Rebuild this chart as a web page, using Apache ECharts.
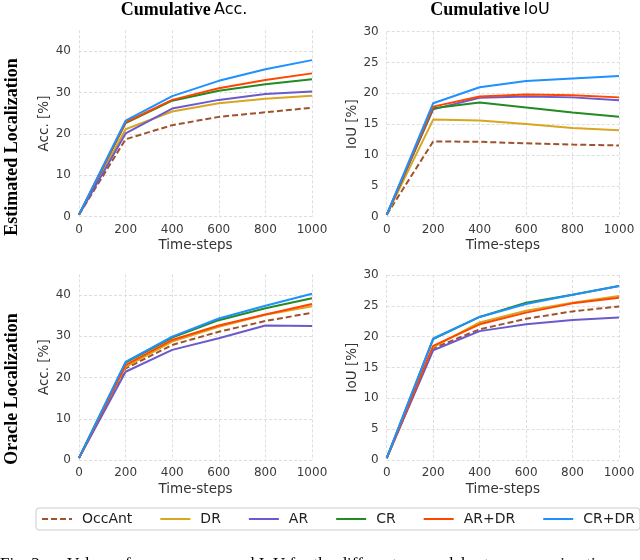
<!DOCTYPE html>
<html>
<head>
<meta charset="utf-8">
<script src="https://cdn.jsdelivr.net/npm/echarts@6/dist/echarts.min.js"></script>
<style>
  html, body { margin: 0; padding: 0; background: #fff; }
  #chart { width: 640px; height: 560px; }
</style>
</head>
<body>
<div id="chart"></div>
<script>
// x 轴: 时间步
const steps = [0, 200, 400, 600, 800, 1000]
const methods = ['OccAnt', 'DR', 'AR', 'CR', 'AR+DR', 'CR+DR']

// Estimated Localization - Acc. [%]
const occAntEstAcc = [0.5, 18.7, 22.1, 24.1, 25.2, 26.3]
const drEstAcc = [0.5, 21.1, 25.4, 27.4, 28.5, 29.2]
const arEstAcc = [0.5, 20.1, 26.1, 28.2, 29.6, 30.2]
const crEstAcc = [0.5, 22.6, 28.0, 30.4, 32.0, 33.2]
const arDrEstAcc = [0.5, 22.8, 28.2, 31.0, 33.0, 34.6]
const crDrEstAcc = [0.5, 23.2, 29.1, 32.8, 35.6, 37.8]

// Estimated Localization - IoU [%]
const occAntEstIou = [0.3, 12.2, 12.15, 11.9, 11.7, 11.55]
const drEstIou = [0.3, 15.75, 15.6, 15.05, 14.4, 14.0]
const arEstIou = [0.3, 17.4, 19.3, 19.5, 19.35, 18.9]
const crEstIou = [0.3, 17.6, 18.5, 17.7, 16.9, 16.2]
const arDrEstIou = [0.3, 17.85, 19.5, 19.8, 19.7, 19.35]
const crDrEstIou = [0.3, 18.4, 21.0, 22.0, 22.4, 22.8]

// Oracle Localization - Acc. [%]
const occAntOrcAcc = [0.5, 22.2, 27.9, 31.1, 33.7, 35.7]
const drOrcAcc = [0.5, 22.6, 28.7, 32.3, 35.2, 37.3]
const arOrcAcc = [0.5, 21.4, 26.7, 29.5, 32.6, 32.5]
const crOrcAcc = [0.5, 23.6, 29.7, 33.9, 36.8, 39.2]
const arDrOrcAcc = [0.5, 23.0, 29.1, 32.6, 35.3, 37.8]
const crDrOrcAcc = [0.5, 23.8, 29.9, 34.3, 37.4, 40.3]

// Oracle Localization - IoU [%]
const occAntOrcIou = [0.3, 18.1, 21.2, 22.9, 24.1, 24.9]
const drOrcIou = [0.3, 18.3, 22.3, 24.2, 25.5, 26.6]
const arOrcIou = [0.3, 17.8, 20.9, 22.0, 22.7, 23.1]
const crOrcIou = [0.3, 19.6, 23.2, 25.5, 26.8, 28.2]
const arDrOrcIou = [0.3, 18.5, 22.0, 23.9, 25.4, 26.3]
const crDrOrcIou = [0.3, 19.7, 23.2, 25.3, 26.8, 28.2]

const panels = [
  [occAntEstAcc, drEstAcc, arEstAcc, crEstAcc, arDrEstAcc, crDrEstAcc],
  [occAntEstIou, drEstIou, arEstIou, crEstIou, arDrEstIou, crDrEstIou],
  [occAntOrcAcc, drOrcAcc, arOrcAcc, crOrcAcc, arDrOrcAcc, crDrOrcAcc],
  [occAntOrcIou, drOrcIou, arOrcIou, crOrcIou, arDrOrcIou, crDrOrcIou]
]

// 图注（底部被裁掉一半），按词组分段
const captionParts = ['Fig. 3.', 'Values of accuracy', 'and IoU for the different', 'models at', 'varying time']
const captionX = [0, 67, 230, 423, 530]

const colors = ['#a0522d', '#daa520', '#6a5acd', '#228b22', '#ff4500', '#1e90ff']
const sans = 'DejaVu Sans'
const serif = 'Liberation Serif'
const gridColor = '#dedede'

const grids = [
  { left: 79, top: 30.3, width: 233, height: 186.4 },
  { left: 386.7, top: 31.7, width: 232.3, height: 185 },
  { left: 79, top: 274.4, width: 233, height: 185.6 },
  { left: 386.7, top: 275, width: 232.3, height: 185 }
]

const xAxes = grids.map((g, i) => ({
  type: 'value',
  gridIndex: i,
  min: 0,
  max: 1000,
  interval: 200,
  name: 'Time-steps',
  nameLocation: 'middle',
  nameGap: 22,
  nameTextStyle: { fontFamily: sans, fontSize: 13.5, color: '#333' },
  axisLine: { show: false },
  axisTick: { show: false },
  axisLabel: { fontFamily: sans, fontSize: 12, color: '#3b3b3b', margin: 7, formatter: v => String(v) },
  splitLine: { show: true, lineStyle: { color: gridColor, type: [3, 2], width: 1 } }
}))

const yAxes = grids.map((g, i) => {
  const isAcc = i % 2 === 0
  // Acc 图上方留白，最后一条网格线设为透明
  const lineColors = isAcc
    ? [gridColor, gridColor, gridColor, gridColor, gridColor, 'rgba(0,0,0,0)']
    : gridColor
  return {
    type: 'value',
    gridIndex: i,
    min: 0,
    max: isAcc ? 45 : 30,
    interval: isAcc ? 10 : 5,
    name: isAcc ? 'Acc. [%]' : 'IoU [%]',
    nameLocation: 'middle',
    nameGap: isAcc ? 24 : 26,
    nameTextStyle: { fontFamily: sans, fontSize: 13.5, color: '#333' },
    axisLine: { show: false },
    axisTick: { show: false },
    axisLabel: { fontFamily: sans, fontSize: 12, color: '#3b3b3b', margin: 8, showMaxLabel: !isAcc },
    splitLine: { show: true, lineStyle: { color: lineColors, type: [3, 2], width: 1 } }
  }
})

const series = []
panels.forEach((panel, p) => {
  panel.forEach((values, m) => {
    series.push({
      name: methods[m],
      type: 'line',
      xAxisIndex: p,
      yAxisIndex: p,
      data: steps.map((s, k) => [s, values[k]]),
      symbol: 'none',
      animation: false,
      lineStyle: { color: colors[m], width: 2, type: m === 0 ? [6, 3] : 'solid' },
      itemStyle: { color: colors[m] }
    })
  })
})

const titleRich = {
  a: { fontFamily: serif, fontWeight: 'bold', fontSize: 18, color: '#000' },
  b: { fontFamily: sans, fontSize: 16, color: '#000' }
}

const graphics = [
  {
    type: 'text', x: 184, y: 10,
    style: { text: '{a|Cumulative} {b|Acc.}', rich: titleRich, align: 'center', verticalAlign: 'middle' }
  },
  {
    type: 'text', x: 490, y: 10,
    style: { text: '{a|Cumulative} {b|IoU}', rich: titleRich, align: 'center', verticalAlign: 'middle' }
  },
  {
    type: 'text', x: 12, y: 147, rotation: Math.PI / 2,
    style: { text: 'Estimated Localization', font: 'bold 18px "Liberation Serif"', fill: '#000', align: 'center', verticalAlign: 'middle' }
  },
  {
    type: 'text', x: 12, y: 389, rotation: Math.PI / 2,
    style: { text: 'Oracle Localization', font: 'bold 18px "Liberation Serif"', fill: '#000', align: 'center', verticalAlign: 'middle' }
  }
]
captionParts.forEach((t, i) => {
  graphics.push({
    type: 'text', x: captionX[i], y: 565,
    style: { text: t, font: '17px "Liberation Serif"', fill: '#000', align: 'left', verticalAlign: 'middle' }
  })
})

const chart = echarts.init(document.getElementById('chart'))
chart.setOption({
  animation: false,
  grid: grids,
  xAxis: xAxes,
  yAxis: yAxes,
  legend: {
    data: methods,
    left: 36,
    top: 508,
    padding: [4, 5, 4, 5],
    itemWidth: 30,
    itemHeight: 14,
    itemGap: 27,
    borderColor: '#cccccc',
    borderWidth: 1,
    borderRadius: 3,
    // 只保留线段图例，隐藏圆点
    itemStyle: { color: 'rgba(0,0,0,0)', borderWidth: 0, opacity: 0 },
    textStyle: { fontFamily: sans, fontSize: 14, color: '#222', padding: [0, 0, 0, 5] }
  },
  graphic: graphics,
  series: series
})
</script>
</body>
</html>
